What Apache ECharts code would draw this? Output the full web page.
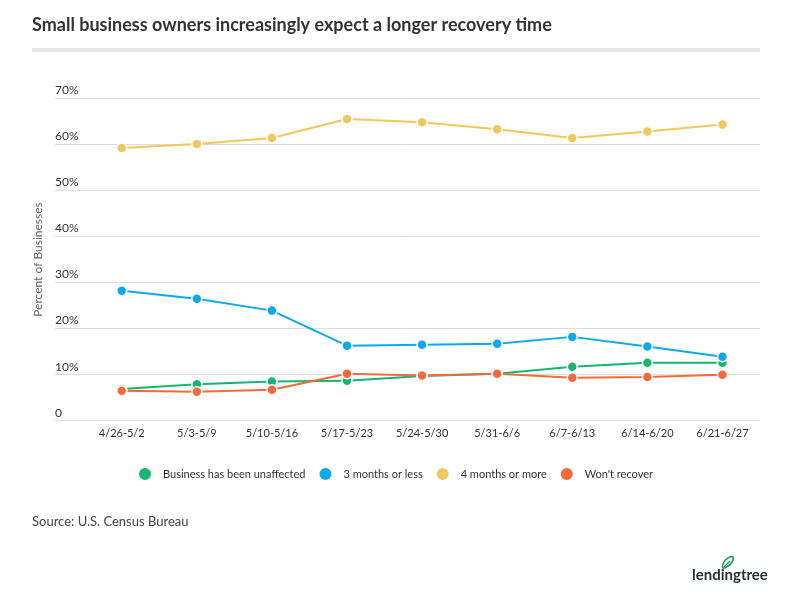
<!DOCTYPE html>
<html>
<head>
<meta charset="utf-8">
<script src="https://cdn.jsdelivr.net/npm/echarts@6/dist/echarts.min.js"></script>
<style>html,body{margin:0;padding:0;background:#fff}#c{width:800px;height:600px}</style>
</head>
<body>
<div id="c"></div>
<script>
var categories = ['4/26-5/2','5/3-5/9','5/10-5/16','5/17-5/23','5/24-5/30','5/31-6/6','6/7-6/13','6/14-6/20','6/21-6/27'];
var unaffected = [6.9, 7.9, 8.5, 8.7, 9.7, 10.2, 11.7, 12.6, 12.6];
var threeOrLess = [28.2, 26.5, 23.9, 16.3, 16.5, 16.7, 18.2, 16.1, 13.9];
var fourOrMore = [59.2, 60.1, 61.4, 65.5, 64.8, 63.3, 61.4, 62.8, 64.3];
var wontRecover = [6.5, 6.3, 6.7, 10.2, 9.8, 10.2, 9.3, 9.5, 10.0];
var seriesNames = ['Business has been unaffected', '3 months or less', '4 months or more', "Won't recover"];
var colors = ['#17b56f', '#0ea9ea', '#efc860', '#f26b3a'];
var yTicks = [0, 10, 20, 30, 40, 50, 60, 70];

var FONT = 'Lato';
var chart = echarts.init(document.getElementById('c'), null, {renderer: 'canvas'});

function mkSeries(i, data) {
  return {
    name: seriesNames[i], type: 'line', data: data,
    xAxisIndex: 1, yAxisIndex: 1,
    symbol: 'circle', symbolSize: 10,
    lineStyle: {width: 2, color: colors[i]},
    itemStyle: {color: colors[i], borderColor: '#fff', borderWidth: 1.5},
    emphasis: {disabled: true},
    animation: false
  };
}

chart.setOption({
  backgroundColor: '#fff',
  animation: false,
  color: colors,
  title: {
    text: 'Small business owners increasingly expect a longer recovery time',
    left: 32, top: 16, padding: 0,
    textStyle: {fontFamily: FONT, fontSize: 18, fontWeight: 'bold', color: '#333'}
  },
  legend: {
    top: 466, left: 137, padding: 0,
    icon: 'circle', itemWidth: 14, itemHeight: 14, itemGap: 12,
    textStyle: {fontFamily: FONT, fontSize: 11, color: '#333', padding: [0,0,0,6]},
    data: seriesNames
  },
  grid: [
    {left: 55, right: 40, top: 98.3, bottom: 179.3},
    {left: 84.2, right: 40, top: 98.3, bottom: 179.3}
  ],
  xAxis: [
    {gridIndex: 0, type: 'value', show: false, min: 0, max: 1},
    {gridIndex: 1, type: 'category', data: categories, boundaryGap: true,
     axisLine: {show: false}, axisTick: {show: false},
     axisLabel: {fontFamily: FONT, fontSize: 11, color: '#333', margin: 7, interval: 0}}
  ],
  yAxis: [
    {gridIndex: 0, type: 'value', min: yTicks[0], max: yTicks[yTicks.length-1], interval: 10,
     name: 'Percent of Businesses', nameLocation: 'middle', nameRotate: 90, nameGap: 3,
     nameTextStyle: {fontFamily: FONT, fontSize: 12, color: '#666'},
     axisLine: {show: false}, axisTick: {show: false},
     axisLabel: {inside: true, align: 'left', verticalAlign: 'bottom', margin: 0,
       padding: [0,0,2,0],
       fontFamily: FONT, fontSize: 12, color: '#333',
       formatter: function(v){ return v === 0 ? '0' : v + '%'; }},
     splitLine: {show: true, lineStyle: {color: '#dcdcdc', width: 1}}},
    {gridIndex: 1, type: 'value', min: yTicks[0], max: yTicks[yTicks.length-1], interval: 10, show: false,
     splitLine: {show: false}}
  ],
  graphic: [
    {type: 'rect', shape: {x: 32, y: 48, width: 728, height: 4}, style: {fill: '#e6e6e6'}, silent: true},
    {type: 'text', x: 32, y: 522, style: {text: 'Source: U.S. Census Bureau', font: '13px Lato', fill: '#444', verticalAlign: 'middle'}},
    {type: 'text', x: 692, y: 575, style: {text: 'lendingtree', font: 'bold 15px Lato', fill: '#2b2f36', verticalAlign: 'middle'}},
    {type: 'polygon', shape: {points: [[723,568],[724,562],[728,558],[733,557],[732,562],[728,566]], smooth: 0.4},
     style: {fill: 'none', stroke: '#12a052', lineWidth: 1.6}},
    {type: 'line', shape: {x1: 724, y1: 567, x2: 730, y2: 561}, style: {stroke: '#12a052', lineWidth: 1.2}}
  ],
  series: [
    mkSeries(0, unaffected),
    mkSeries(1, threeOrLess),
    mkSeries(2, fourOrMore),
    mkSeries(3, wontRecover)
  ]
});
</script>
</body>
</html>
